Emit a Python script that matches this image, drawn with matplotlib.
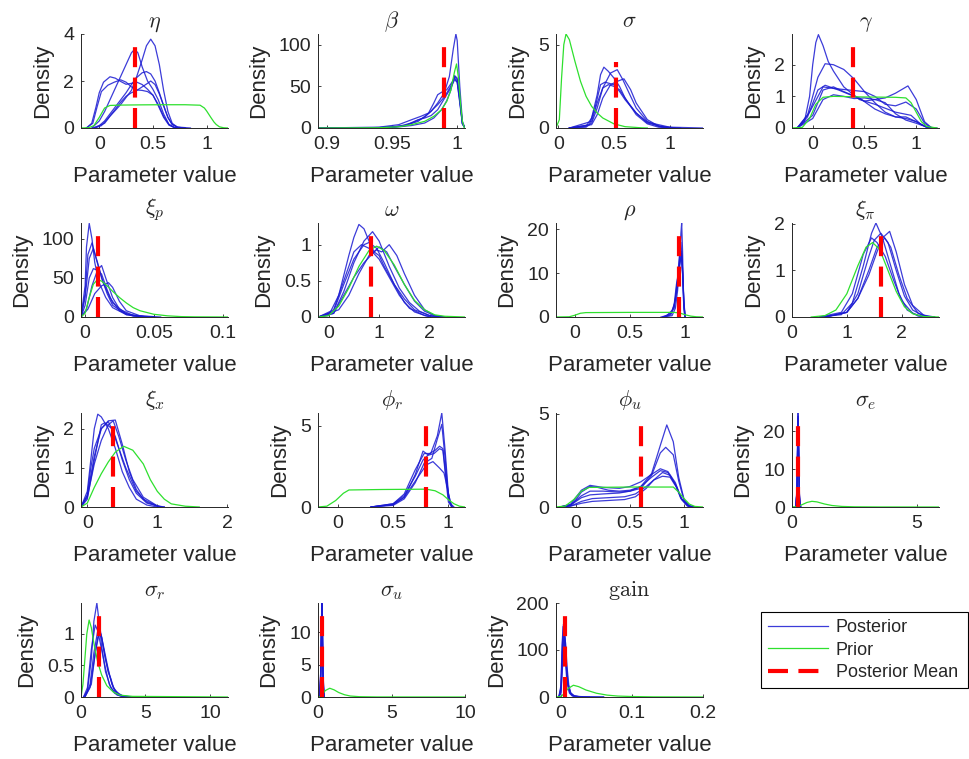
import matplotlib
matplotlib.use('Agg')
import matplotlib.pyplot as plt
from matplotlib.ticker import FuncFormatter, FixedLocator

plt.rcParams['font.family'] = ['Liberation Sans', 'DejaVu Sans']
plt.rcParams['mathtext.fontset'] = 'cm'

# ---------------- data ----------------
titles = [r'$\eta$', r'$\beta$', r'$\sigma$', r'$\gamma$',
          r'$\xi_p$', r'$\omega$', r'$\rho$', r'$\xi_\pi$',
          r'$\xi_x$', r'$\phi_r$', r'$\phi_u$', r'$\sigma_e$',
          r'$\sigma_r$', r'$\sigma_u$', r'$\mathrm{gain}$']

# posterior mean (x) and drawn height of the dashed line
mean_x = [0.333, 0.9897, 0.52, 0.394, 0.0092, 0.84, 0.946, 1.625,
          0.36, 0.798, 0.60, 0.24, 1.41, 0.27, 0.0057]
mean_h = [3.54, 99, 3.98, 2.6, 107, 1.16, 19.1, 1.81,
          2.11, 5.14, 4.46, 21.8, 1.33, 12.9, 178]

eta_chains = [
    [(-0.05, 0), (0.05, 0.2), (0.1, 0.5), (0.2, 1.0), (0.3, 1.6), (0.35, 2.2), (0.4, 2.9), (0.44, 3.5),
     (0.48, 3.78), (0.52, 3.5), (0.56, 2.7), (0.6, 1.6), (0.64, 0.7), (0.68, 0.2), (0.73, 0.03), (0.8, 0)],
    [(-0.07, 0), (0.0, 0.3), (0.05, 0.7), (0.1, 1.2), (0.15, 1.7), (0.2, 2.2), (0.25, 2.7), (0.3, 3.2),
     (0.33, 3.35), (0.36, 3.2), (0.4, 2.6), (0.45, 2.0), (0.5, 1.65), (0.55, 1.2), (0.6, 0.6), (0.65, 0.15),
     (0.7, 0.02), (0.75, 0)],
    [(-0.12, 0), (-0.07, 0.2), (-0.03, 0.9), (0.0, 1.5), (0.04, 1.95), (0.1, 2.18), (0.15, 2.12), (0.2, 1.98),
     (0.25, 1.86), (0.3, 1.9), (0.35, 1.95), (0.4, 1.85), (0.45, 1.65), (0.5, 1.4), (0.55, 0.95), (0.6, 0.45),
     (0.65, 0.12), (0.7, 0.02), (0.75, 0)],
    [(-0.12, 0), (-0.06, 0.2), (-0.02, 0.9), (0.02, 1.55), (0.08, 1.82), (0.14, 1.95), (0.2, 2.05), (0.25, 1.95),
     (0.3, 1.75), (0.35, 1.62), (0.4, 1.6), (0.45, 1.55), (0.5, 1.4), (0.55, 1.0), (0.6, 0.5), (0.65, 0.15),
     (0.7, 0.02), (0.75, 0)],
    [(-0.06, 0), (0.0, 0.1), (0.05, 0.3), (0.1, 0.6), (0.15, 0.9), (0.2, 1.2), (0.25, 1.5), (0.3, 1.85),
     (0.35, 2.15), (0.4, 2.35), (0.44, 2.4), (0.48, 2.3), (0.52, 2.0), (0.56, 1.5), (0.6, 0.95), (0.64, 0.45),
     (0.68, 0.15), (0.73, 0.03), (0.8, 0)],
    [(-0.04, 0), (0.02, 0.1), (0.08, 0.4), (0.15, 0.8), (0.2, 1.1), (0.25, 1.35), (0.3, 1.5), (0.35, 1.6),
     (0.4, 1.75), (0.45, 1.9), (0.48, 2.0), (0.52, 1.85), (0.56, 1.45), (0.6, 0.95), (0.64, 0.45), (0.68, 0.15),
     (0.73, 0.04), (0.85, 0)],
]
eta_prior = [(-0.17, 0), (-0.1, 0.01), (-0.05, 0.1), (0.0, 0.45), (0.05, 0.85), (0.1, 0.96), (0.2, 0.975),
             (0.4, 0.985), (0.6, 0.99), (0.8, 0.99), (0.94, 0.97), (0.98, 0.85), (1.0, 0.73), (1.04, 0.45),
             (1.07, 0.25), (1.09, 0.15), (1.12, 0.05), (1.16, 0.01), (1.2, 0)]

beta_chains = [
    [(0.893, 0), (0.93, 0.2), (0.95, 1), (0.96, 3), (0.97, 8), (0.98, 20), (0.985, 30), (0.99, 42), (0.994, 62),
     (0.997, 95), (0.999, 113), (1.0, 105), (1.002, 50), (1.004, 8), (1.006, 0)],
    [(0.893, 0), (0.94, 0.5), (0.955, 2), (0.965, 6), (0.975, 13), (0.985, 28), (0.99, 37), (0.995, 50),
     (0.998, 62), (1.0, 58), (1.002, 35), (1.004, 6), (1.006, 0)],
    [(0.893, 0), (0.94, 1), (0.955, 4), (0.965, 10), (0.972, 14), (0.978, 18), (0.982, 30), (0.985, 40),
     (0.988, 43), (0.992, 46), (0.996, 55), (0.998, 60), (1.0, 55), (1.002, 30), (1.004, 5), (1.006, 0)],
    [(0.893, 0), (0.945, 0.5), (0.96, 3), (0.97, 10), (0.975, 12), (0.98, 15), (0.985, 22), (0.99, 35),
     (0.995, 48), (0.998, 58), (1.0, 55), (1.002, 32), (1.004, 5), (1.006, 0)],
    [(0.893, 0), (0.95, 0.5), (0.965, 3), (0.975, 6), (0.982, 12), (0.988, 22), (0.992, 33), (0.995, 45),
     (0.998, 63), (1.0, 60), (1.002, 35), (1.004, 5), (1.006, 0)],
]
beta_prior = [(0.893, 0), (0.94, 0.3), (0.955, 1.5), (0.965, 4), (0.975, 8), (0.982, 14), (0.988, 22),
              (0.992, 32), (0.995, 45), (0.998, 68), (0.9995, 77), (1.001, 60), (1.0025, 30), (1.004, 8),
              (1.0055, 0)]

sigma_chains = [
    [(0.1, 0), (0.25, 0.1), (0.3, 0.6), (0.35, 2.0), (0.38, 3.2), (0.41, 3.65), (0.45, 3.4), (0.5, 3.0),
     (0.55, 2.5), (0.6, 1.8), (0.7, 0.8), (0.8, 0.25), (0.9, 0.05), (1.0, 0)],
    [(0.1, 0), (0.25, 0.05), (0.3, 0.3), (0.35, 1.2), (0.4, 2.4), (0.47, 3.3), (0.53, 3.5), (0.58, 2.9),
     (0.65, 1.9), (0.7, 1.2), (0.8, 0.4), (0.9, 0.1), (1.0, 0)],
    [(0.1, 0), (0.3, 0.2), (0.35, 0.8), (0.4, 1.8), (0.47, 2.6), (0.53, 2.8), (0.59, 2.95), (0.65, 2.3),
     (0.7, 1.5), (0.8, 0.5), (0.9, 0.12), (1.05, 0)],
    [(0.1, 0), (0.28, 0.2), (0.33, 1.2), (0.38, 2.6), (0.42, 2.75), (0.5, 2.6), (0.55, 2.2), (0.6, 1.7),
     (0.7, 0.9), (0.8, 0.3), (0.95, 0.05), (1.1, 0)],
    [(0.1, 0), (0.3, 0.4), (0.35, 1.5), (0.4, 2.4), (0.45, 2.6), (0.5, 2.5), (0.55, 2.3), (0.62, 1.6),
     (0.7, 0.9), (0.8, 0.35), (1.0, 0.05), (1.3, 0)],
]
sigma_prior = [(-0.02, 0), (0.01, 0.5), (0.03, 3.0), (0.05, 5.0), (0.07, 5.64), (0.1, 5.3), (0.15, 4.0),
               (0.2, 2.8), (0.25, 1.9), (0.3, 1.3), (0.35, 0.9), (0.4, 0.6), (0.5, 0.25), (0.6, 0.08),
               (0.75, 0.01), (0.8, 0)]

gamma_chains = [
    [(-0.15, 0), (-0.08, 0.2), (-0.03, 1.0), (0.0, 2.0), (0.03, 2.7), (0.055, 2.95), (0.1, 2.6), (0.15, 2.1),
     (0.2, 1.8), (0.3, 1.3), (0.45, 0.9), (0.6, 0.75), (0.8, 0.5), (0.95, 0.4), (1.05, 0.1), (1.15, 0)],
    [(-0.15, 0), (-0.05, 0.4), (0.05, 1.6), (0.12, 2.03), (0.2, 2.0), (0.3, 1.85), (0.4, 1.55), (0.5, 1.15),
     (0.6, 0.8), (0.7, 0.5), (0.8, 0.35), (0.9, 0.3), (1.0, 0.2), (1.1, 0.03), (1.2, 0)],
    [(-0.15, 0), (-0.05, 0.35), (0.05, 1.2), (0.12, 1.35), (0.25, 1.2), (0.4, 1.0), (0.5, 0.85), (0.6, 0.9),
     (0.7, 0.95), (0.8, 1.1), (0.92, 1.33), (1.0, 0.9), (1.08, 0.2), (1.15, 0)],
    [(-0.15, 0), (-0.03, 0.5), (0.1, 1.3), (0.2, 1.25), (0.35, 1.2), (0.5, 1.15), (0.6, 1.0), (0.7, 0.75),
     (0.8, 0.7), (0.9, 0.82), (1.0, 0.6), (1.08, 0.15), (1.15, 0)],
    [(-0.15, 0), (0.0, 0.3), (0.1, 0.9), (0.2, 1.05), (0.3, 1.0), (0.4, 0.93), (0.5, 0.95), (0.6, 0.9),
     (0.7, 0.8), (0.8, 0.45), (0.9, 0.25), (1.0, 0.15), (1.1, 0.03), (1.15, 0)],
    [(-0.15, 0), (0.0, 0.4), (0.1, 1.2), (0.2, 1.3), (0.3, 1.15), (0.45, 0.95), (0.6, 0.6), (0.7, 0.45),
     (0.8, 0.35), (0.9, 0.35), (1.0, 0.2), (1.1, 0.02), (1.15, 0)],
]
gamma_prior = [(-0.2, 0), (-0.1, 0.02), (-0.03, 0.3), (0.03, 0.75), (0.1, 0.97), (0.2, 1.0), (0.5, 0.98),
               (0.8, 0.97), (0.9, 0.95), (0.95, 0.8), (1.0, 0.5), (1.05, 0.2), (1.1, 0.05), (1.2, 0)]

xip_chains = [
    [(-0.003, 0), (0.0, 40), (0.001, 90), (0.003, 120), (0.005, 100), (0.007, 70), (0.01, 45), (0.015, 25),
     (0.02, 12), (0.03, 3), (0.04, 0.5), (0.05, 0)],
    [(-0.003, 0), (0.0, 30), (0.002, 80), (0.005, 95), (0.008, 75), (0.012, 50), (0.016, 30), (0.02, 15),
     (0.03, 3), (0.045, 0)],
    [(-0.003, 0), (0.0, 25), (0.003, 75), (0.006, 88), (0.009, 70), (0.013, 45), (0.018, 25), (0.025, 8),
     (0.035, 1), (0.05, 0)],
    [(-0.003, 0), (0.0, 15), (0.003, 50), (0.006, 62), (0.009, 60), (0.012, 55), (0.016, 35), (0.02, 18),
     (0.03, 4), (0.045, 0)],
    [(-0.003, 0), (0.001, 10), (0.005, 40), (0.009, 60), (0.012, 66), (0.015, 50), (0.02, 25), (0.025, 10),
     (0.035, 2), (0.05, 0)],
    [(-0.003, 0), (0.002, 10), (0.007, 30), (0.012, 40), (0.017, 44), (0.02, 38), (0.025, 20), (0.03, 8),
     (0.04, 1.5), (0.055, 0)],
]
xip_prior = [(-0.003, 0), (0.0, 5), (0.003, 25), (0.006, 42), (0.009, 48), (0.012, 46), (0.016, 40),
             (0.02, 33), (0.025, 25), (0.03, 18), (0.035, 12), (0.04, 8), (0.05, 3.5), (0.06, 1.5),
             (0.07, 0.5), (0.08, 0.2), (0.104, 0)]

omega_chains = [
    [(-0.2, 0), (0.0, 0.02), (0.2, 0.3), (0.4, 0.85), (0.5, 1.1), (0.6, 1.28), (0.7, 1.22), (0.8, 1.05),
     (0.9, 0.9), (1.0, 0.85), (1.1, 0.7), (1.3, 0.45), (1.5, 0.25), (1.7, 0.1), (2.0, 0.02), (2.2, 0)],
    [(-0.2, 0), (0.1, 0.05), (0.3, 0.35), (0.5, 0.75), (0.7, 1.05), (0.87, 1.18), (1.0, 1.05), (1.2, 0.7),
     (1.4, 0.4), (1.6, 0.2), (1.8, 0.08), (2.0, 0.02), (2.2, 0)],
    [(-0.2, 0), (0.2, 0.1), (0.4, 0.3), (0.6, 0.6), (0.8, 0.85), (0.95, 0.93), (1.05, 0.9), (1.2, 1.0),
     (1.35, 0.85), (1.5, 0.6), (1.7, 0.3), (1.9, 0.1), (2.1, 0.02), (2.3, 0)],
    [(-0.2, 0), (0.1, 0.08), (0.3, 0.45), (0.5, 0.8), (0.7, 1.0), (0.8, 1.03), (0.95, 0.95), (1.1, 0.75),
     (1.3, 0.45), (1.5, 0.2), (1.7, 0.07), (2.0, 0)],
    [(-0.2, 0), (0.1, 0.1), (0.3, 0.5), (0.5, 0.9), (0.65, 1.0), (0.8, 0.95), (1.0, 0.8), (1.2, 0.55),
     (1.4, 0.3), (1.6, 0.12), (1.9, 0.02), (2.1, 0)],
    [(-0.2, 0), (0.1, 0.05), (0.3, 0.3), (0.5, 0.55), (0.7, 0.75), (0.9, 0.9), (1.0, 0.97), (1.15, 0.9),
     (1.3, 0.7), (1.5, 0.45), (1.7, 0.22), (1.9, 0.08), (2.1, 0.02), (2.3, 0)],
]
omega_prior = [(-0.2, 0), (0.0, 0.02), (0.2, 0.15), (0.4, 0.4), (0.6, 0.7), (0.8, 0.92), (0.95, 0.98),
               (1.1, 0.92), (1.3, 0.72), (1.5, 0.45), (1.7, 0.23), (1.9, 0.1), (2.1, 0.03), (2.3, 0.01),
               (2.7, 0)]

rho_chains = [
    [(0.8, 0), (0.88, 0.3), (0.91, 2), (0.93, 6), (0.95, 13), (0.96, 19), (0.967, 21.4), (0.975, 15),
     (0.985, 3), (0.995, 0)],
    [(0.8, 0), (0.87, 0.5), (0.9, 3), (0.92, 7.5), (0.94, 10), (0.955, 13), (0.965, 14.5), (0.975, 11),
     (0.985, 4), (1.0, 0)],
    [(0.8, 0), (0.88, 1), (0.91, 4), (0.93, 8), (0.95, 14), (0.962, 15), (0.975, 10), (0.99, 2), (1.0, 0)],
    [(0.78, 0), (0.86, 0.5), (0.9, 2.5), (0.93, 7), (0.95, 12), (0.965, 14), (0.98, 8), (0.99, 2), (1.0, 0)],
    [(0.82, 0), (0.9, 2), (0.93, 9), (0.95, 15), (0.96, 17), (0.972, 13), (0.985, 3), (0.995, 0)],
]
rho_prior = [(-0.17, 0), (-0.05, 0.05), (0.0, 0.4), (0.05, 0.85), (0.1, 1.0), (0.5, 1.05), (0.9, 1.05),
             (0.95, 0.9), (1.0, 0.5), (1.05, 0.2), (1.1, 0.05), (1.16, 0)]

xipi_chains = [
    [(0.5, 0), (0.9, 0.05), (1.1, 0.3), (1.3, 1.1), (1.45, 1.8), (1.53, 2.02), (1.65, 1.7), (1.8, 1.1),
     (1.95, 0.5), (2.1, 0.15), (2.3, 0.02), (2.5, 0)],
    [(0.6, 0), (1.0, 0.1), (1.2, 0.4), (1.4, 0.9), (1.55, 1.4), (1.65, 1.7), (1.78, 1.84), (1.9, 1.4),
     (2.05, 0.7), (2.2, 0.25), (2.4, 0.04), (2.6, 0)],
    [(0.6, 0), (1.0, 0.1), (1.2, 0.5), (1.4, 1.3), (1.5, 1.65), (1.62, 1.8), (1.75, 1.6), (1.9, 1.0),
     (2.05, 0.45), (2.2, 0.15), (2.4, 0.02), (2.6, 0)],
    [(0.5, 0), (0.9, 0.1), (1.1, 0.5), (1.3, 1.35), (1.45, 1.7), (1.55, 1.6), (1.7, 1.3), (1.85, 0.8),
     (2.0, 0.35), (2.2, 0.08), (2.4, 0)],
    [(0.6, 0), (1.0, 0.1), (1.2, 0.4), (1.4, 1.0), (1.55, 1.5), (1.69, 1.7), (1.8, 1.5), (1.95, 0.9),
     (2.1, 0.4), (2.3, 0.08), (2.5, 0)],
]
xipi_prior = [(0.35, 0), (0.6, 0.03), (0.8, 0.15), (1.0, 0.5), (1.2, 1.1), (1.35, 1.5), (1.47, 1.6),
              (1.6, 1.45), (1.75, 1.0), (1.9, 0.55), (2.05, 0.22), (2.2, 0.07), (2.4, 0.01), (2.68, 0)]

xix_chains = [
    [(-0.09, 0), (0.0, 0.4), (0.05, 1.2), (0.1, 2.0), (0.15, 2.37), (0.2, 2.3), (0.3, 2.0), (0.4, 1.5),
     (0.5, 0.9), (0.6, 0.5), (0.7, 0.2), (0.85, 0.05), (1.0, 0)],
    [(-0.09, 0), (0.0, 0.3), (0.05, 1.0), (0.1, 1.5), (0.2, 2.0), (0.3, 2.2), (0.4, 2.22), (0.5, 1.6),
     (0.6, 0.9), (0.7, 0.45), (0.8, 0.2), (1.0, 0.02), (1.1, 0)],
    [(-0.09, 0), (0.0, 0.3), (0.1, 1.3), (0.2, 2.0), (0.3, 2.18), (0.4, 1.8), (0.5, 1.2), (0.6, 0.7),
     (0.7, 0.35), (0.85, 0.1), (1.05, 0)],
    [(-0.09, 0), (0.0, 0.2), (0.1, 1.2), (0.2, 2.1), (0.25, 2.15), (0.35, 2.0), (0.45, 1.5), (0.55, 1.0),
     (0.7, 0.4), (0.85, 0.12), (1.05, 0)],
    [(-0.09, 0), (0.0, 0.25), (0.1, 1.1), (0.2, 1.7), (0.3, 2.1), (0.37, 2.2), (0.45, 1.8), (0.55, 1.2),
     (0.65, 0.7), (0.8, 0.25), (1.0, 0.03), (1.1, 0)],
]
xix_prior = [(-0.09, 0), (0.0, 0.1), (0.1, 0.5), (0.2, 0.85), (0.3, 1.15), (0.4, 1.4), (0.52, 1.55),
             (0.65, 1.45), (0.8, 1.1), (0.9, 0.7), (1.0, 0.4), (1.1, 0.2), (1.2, 0.08), (1.4, 0.02), (1.6, 0)]

phir_chains = [
    [(0.3, 0), (0.5, 0.15), (0.6, 0.6), (0.7, 2.0), (0.77, 3.45), (0.82, 3.2), (0.87, 3.3), (0.92, 3.6),
     (0.95, 3.5), (0.98, 1.5), (1.0, 0.3), (1.03, 0)],
    [(0.3, 0), (0.5, 0.2), (0.6, 0.8), (0.7, 2.3), (0.78, 3.3), (0.84, 3.3), (0.9, 4.4), (0.94, 5.8),
     (0.97, 3.5), (1.0, 0.8), (1.03, 0)],
    [(0.3, 0), (0.5, 0.1), (0.6, 0.5), (0.7, 1.5), (0.78, 2.7), (0.85, 3.0), (0.9, 4.2), (0.94, 5.1),
     (0.97, 3.0), (1.0, 0.6), (1.03, 0)],
    [(0.3, 0), (0.5, 0.2), (0.6, 0.7), (0.7, 1.9), (0.77, 2.9), (0.83, 3.3), (0.88, 3.5), (0.92, 3.75),
     (0.95, 3.6), (0.98, 1.8), (1.01, 0.3), (1.04, 0)],
    [(0.3, 0), (0.5, 0.15), (0.6, 0.6), (0.7, 1.6), (0.8, 2.6), (0.86, 2.8), (0.92, 2.4), (0.96, 2.1),
     (0.99, 1.2), (1.02, 0.2), (1.05, 0)],
]
phir_prior = [(-0.18, 0), (-0.1, 0.05), (-0.02, 0.4), (0.05, 0.85), (0.1, 1.05), (0.4, 1.08), (0.8, 1.1),
              (0.88, 1.0), (0.95, 0.75), (1.0, 0.45), (1.05, 0.2), (1.1, 0.05), (1.15, 0)]

phiu_chains = [
    [(-0.15, 0), (-0.05, 0.1), (0.0, 0.4), (0.05, 0.8), (0.13, 1.1), (0.2, 1.05), (0.3, 0.9), (0.4, 0.85),
     (0.5, 0.9), (0.6, 1.1), (0.7, 1.8), (0.78, 3.3), (0.84, 4.4), (0.9, 3.5), (0.95, 1.6), (1.0, 0.4),
     (1.05, 0.05), (1.1, 0)],
    [(-0.15, 0), (-0.05, 0.1), (0.05, 0.6), (0.13, 0.85), (0.25, 0.85), (0.4, 0.8), (0.5, 0.85), (0.6, 1.0),
     (0.7, 1.7), (0.78, 2.9), (0.83, 3.2), (0.9, 2.8), (0.95, 1.4), (1.0, 0.35), (1.05, 0.05), (1.1, 0)],
    [(-0.15, 0), (-0.05, 0.15), (0.05, 0.9), (0.13, 1.16), (0.25, 1.05), (0.4, 1.0), (0.5, 1.1), (0.6, 1.35),
     (0.7, 1.75), (0.78, 2.05), (0.85, 1.9), (0.92, 1.3), (0.97, 0.5), (1.03, 0.08), (1.1, 0)],
    [(-0.15, 0), (-0.05, 0.1), (0.05, 0.5), (0.13, 0.65), (0.25, 0.7), (0.4, 0.75), (0.5, 0.85), (0.6, 1.1),
     (0.7, 1.6), (0.78, 1.95), (0.85, 1.85), (0.92, 1.2), (0.97, 0.45), (1.03, 0.05), (1.1, 0)],
    [(-0.15, 0), (-0.05, 0.05), (0.05, 0.3), (0.15, 0.45), (0.3, 0.5), (0.45, 0.55), (0.55, 0.7), (0.65, 1.1),
     (0.75, 1.6), (0.8, 1.85), (0.87, 1.7), (0.93, 1.1), (0.98, 0.4), (1.04, 0.05), (1.1, 0)],
    [(-0.15, 0), (-0.05, 0.05), (0.05, 0.2), (0.15, 0.3), (0.3, 0.35), (0.45, 0.4), (0.55, 0.55), (0.65, 1.0),
     (0.72, 1.45), (0.8, 1.65), (0.87, 1.6), (0.93, 1.05), (0.98, 0.4), (1.04, 0.05), (1.1, 0)],
]
phiu_prior = [(-0.185, 0), (-0.1, 0.05), (-0.02, 0.4), (0.05, 0.85), (0.12, 1.05), (0.5, 1.07), (0.9, 1.07),
              (0.95, 0.8), (1.0, 0.45), (1.05, 0.15), (1.1, 0.03), (1.175, 0)]

sige_chains = [
    [(0.15, 0), (0.2, 4), (0.23, 18), (0.245, 24.8), (0.26, 17), (0.29, 3), (0.34, 0)],
    [(0.15, 0), (0.2, 5), (0.23, 20), (0.25, 23.5), (0.27, 14), (0.3, 2), (0.35, 0)],
    [(0.14, 0), (0.19, 3), (0.22, 15), (0.24, 22.5), (0.26, 19), (0.29, 4), (0.34, 0)],
    [(0.16, 0), (0.21, 6), (0.235, 21), (0.25, 24), (0.265, 16), (0.3, 2), (0.35, 0)],
    [(0.15, 0), (0.2, 4), (0.23, 17), (0.245, 21), (0.265, 15), (0.3, 3), (0.35, 0)],
]
sige_prior = [(0.0, 0), (0.2, 0.1), (0.4, 0.6), (0.6, 1.2), (0.8, 1.5), (1.0, 1.35), (1.3, 0.8), (1.6, 0.4),
              (2.0, 0.15), (2.5, 0.05), (3.5, 0.01), (5.9, 0)]

sigr_chains = [
    [(0.2, 0), (0.5, 0.1), (0.8, 0.6), (1.0, 1.2), (1.23, 1.49), (1.4, 1.2), (1.6, 0.8), (1.9, 0.4),
     (2.3, 0.15), (2.8, 0.03), (3.5, 0)],
    [(0.2, 0), (0.5, 0.15), (0.8, 0.75), (1.1, 1.14), (1.3, 1.05), (1.6, 0.75), (1.9, 0.45), (2.2, 0.2),
     (2.6, 0.06), (3.2, 0)],
    [(0.3, 0), (0.7, 0.2), (1.0, 0.7), (1.3, 1.05), (1.5, 1.05), (1.8, 0.7), (2.1, 0.4), (2.3, 0.3),
     (2.6, 0.1), (3.2, 0.02), (4.0, 0)],
    [(0.3, 0), (0.7, 0.15), (1.0, 0.55), (1.3, 0.95), (1.55, 1.0), (1.8, 0.75), (2.1, 0.45), (2.4, 0.2),
     (2.8, 0.05), (3.5, 0)],
    [(0.3, 0), (0.8, 0.2), (1.1, 0.7), (1.4, 1.0), (1.6, 0.95), (1.9, 0.6), (2.2, 0.35), (2.5, 0.15),
     (3.0, 0.03), (3.8, 0)],
]
sigr_prior = [(0.0, 0), (0.15, 0.2), (0.3, 0.6), (0.45, 1.0), (0.63, 1.22), (0.8, 1.1), (1.0, 0.85),
              (1.3, 0.55), (1.6, 0.35), (2.0, 0.18), (2.5, 0.08), (3.0, 0.03), (4.0, 0.01), (11.4, 0)]

sigu_chains = [
    [(0.1, 0), (0.18, 3), (0.23, 11), (0.26, 14.5), (0.29, 12), (0.33, 4), (0.4, 0)],
    [(0.1, 0), (0.19, 4), (0.24, 12), (0.27, 14.0), (0.3, 10), (0.34, 3), (0.4, 0)],
    [(0.12, 0), (0.2, 5), (0.25, 13), (0.28, 14.3), (0.31, 9), (0.35, 2), (0.42, 0)],
    [(0.1, 0), (0.18, 2), (0.23, 10), (0.27, 13.5), (0.3, 11), (0.35, 3), (0.42, 0)],
    [(0.11, 0), (0.19, 3), (0.24, 12), (0.275, 14.5), (0.3, 12), (0.34, 4), (0.41, 0)],
]
sigu_prior = [(0.0, 0), (0.15, 0.05), (0.3, 0.4), (0.5, 1.0), (0.8, 1.35), (1.1, 1.1), (1.4, 0.7),
              (1.8, 0.35), (2.2, 0.15), (2.8, 0.05), (4.0, 0.01), (10.0, 0)]

gain_chains = [
    [(-0.003, 0), (0.0, 20), (0.002, 110), (0.0035, 155), (0.005, 135), (0.007, 75), (0.009, 32), (0.012, 10),
     (0.016, 3), (0.025, 0.5), (0.06, 0)],
    [(-0.003, 0), (0.0, 15), (0.002, 95), (0.004, 148), (0.0055, 125), (0.0075, 70), (0.0095, 30), (0.013, 9),
     (0.018, 2), (0.03, 0.3), (0.06, 0)],
    [(-0.003, 0), (0.0, 10), (0.0025, 90), (0.0045, 140), (0.006, 120), (0.008, 65), (0.01, 28), (0.013, 10),
     (0.018, 2), (0.03, 0)],
    [(-0.003, 0), (0.0, 25), (0.0015, 110), (0.003, 150), (0.0045, 130), (0.0065, 70), (0.0085, 30),
     (0.012, 8), (0.016, 2), (0.03, 0)],
    [(-0.003, 0), (0.0, 8), (0.003, 85), (0.005, 130), (0.0065, 115), (0.0085, 65), (0.011, 25), (0.014, 8),
     (0.02, 1.5), (0.04, 0)],
]
gain_prior = [(-0.007, 0), (0.0, 1), (0.005, 8), (0.01, 18), (0.0175, 25), (0.025, 22), (0.035, 15),
              (0.05, 8), (0.065, 4), (0.08, 2), (0.1, 1), (0.13, 0.3), (0.2, 0)]

all_chains = [eta_chains, beta_chains, sigma_chains, gamma_chains, xip_chains, omega_chains,
              rho_chains, xipi_chains, xix_chains, phir_chains, phiu_chains, sige_chains,
              sigr_chains, sigu_chains, gain_chains]
all_priors = [eta_prior, beta_prior, sigma_prior, gamma_prior, xip_prior, omega_prior,
              rho_prior, xipi_prior, xix_prior, phir_prior, phiu_prior, sige_prior,
              sigr_prior, sigu_prior, gain_prior]

# axis settings
xlims = [(-0.17, 1.2), (0.893, 1.006), (-0.02, 1.3), (-0.2, 1.22), (-0.003, 0.104), (-0.21, 2.7),
         (-0.17, 1.16), (0, 2.68), (-0.09, 2.01), (-0.18, 1.15), (-0.185, 1.175), (0, 5.9),
         (0, 11.4), (0, 10), (-0.007, 0.2)]
ylims = [(0, 4.0), (0, 113), (0, 5.64), (0, 2.97), (0, 120.5), (0, 1.3), (0, 21.4), (0, 2.02),
         (0, 2.4), (0, 5.8), (0, 5.04), (0, 24.8), (0, 1.49), (0, 14.5), (0, 200)]
xticks = [[0, 0.5, 1], [0.9, 0.95, 1], [0, 0.5, 1], [0, 0.5, 1], [0, 0.05, 0.1], [0, 1, 2],
          [0, 0.5, 1], [0, 1, 2], [0, 1, 2], [0, 0.5, 1], [0, 0.5, 1], [0, 5], [0, 5, 10],
          [0, 5, 10], [0, 0.1, 0.2]]
yticks = [[0, 2, 4], [0, 50, 100], [0, 5], [0, 1, 2], [0, 50, 100], [0, 0.5, 1], [0, 10, 20],
          [0, 1, 2], [0, 1, 2], [0, 5], [0, 5], [0, 10, 20], [0, 0.5, 1], [0, 5, 10], [0, 100, 200]]

# ---------------- drawing ----------------
W, H = 969, 759
fig = plt.figure(figsize=(W / 100, H / 100), dpi=100)
col_left = [81, 318, 556, 792]
row_top = [34, 223, 413, 603]
aw, ah = 147, 94

BLUE = '#1a1ad2'
GREEN = '#2ee02e'
RED = '#ff0000'
AXC = '#262626'

fmt = FuncFormatter(lambda v, p: '%g' % v)
handles = None
for i in range(15):
    r, c = divmod(i, 4)
    ax = fig.add_axes([col_left[c] / W, 1 - (row_top[r] + ah) / H, aw / W, ah / H])
    hb = None
    for ch in all_chains[i]:
        xs = [p[0] for p in ch]
        ys = [p[1] for p in ch]
        hb, = ax.plot(xs, ys, color=BLUE, lw=0.9, alpha=0.85)
    pr = all_priors[i]
    hg, = ax.plot([p[0] for p in pr], [p[1] for p in pr], color=GREEN, lw=0.9)
    hr, = ax.plot([mean_x[i], mean_x[i]], [0, mean_h[i]], color=RED, lw=3,
                  ls=(0, (4.8, 2.5)), dash_capstyle='butt')
    if handles is None:
        handles = [hb, hg, hr]
    ax.set_xlim(*xlims[i])
    ax.set_ylim(*ylims[i])
    ax.xaxis.set_major_locator(FixedLocator(xticks[i]))
    ax.yaxis.set_major_locator(FixedLocator(yticks[i]))
    ax.xaxis.set_major_formatter(fmt)
    ax.yaxis.set_major_formatter(fmt)
    for s in ['top', 'right']:
        ax.spines[s].set_visible(False)
    for s in ['left', 'bottom']:
        ax.spines[s].set_color(AXC)
        ax.spines[s].set_linewidth(0.7)
    ax.tick_params(direction='in', length=2.5, width=0.6, colors=AXC, labelsize=14, pad=5)
    ax.tick_params(axis='x', pad=6)
    ax.set_xlabel('Parameter value', fontsize=16, color=AXC, labelpad=9)
    ax.set_ylabel('Density', fontsize=16, color=AXC, labelpad=7)
    ax.set_title(titles[i], fontsize=16, color=AXC, pad=5)
    ax.patch.set_alpha(0)

leg = fig.legend(handles, ['Posterior', 'Prior', 'Posterior Mean'],
                 loc='upper left', bbox_to_anchor=(761 / W, 1 - 686 / H, 207 / W, 74 / H),
                 mode='expand', borderaxespad=0, fontsize=13, handlelength=3.3,
                 handletextpad=0.45, labelspacing=0.3, borderpad=0.4, fancybox=False,
                 edgecolor='black', framealpha=1)
leg.get_frame().set_linewidth(0.8)
for t in leg.get_texts():
    t.set_color(AXC)

fig.savefig('out.png', dpi=100)
